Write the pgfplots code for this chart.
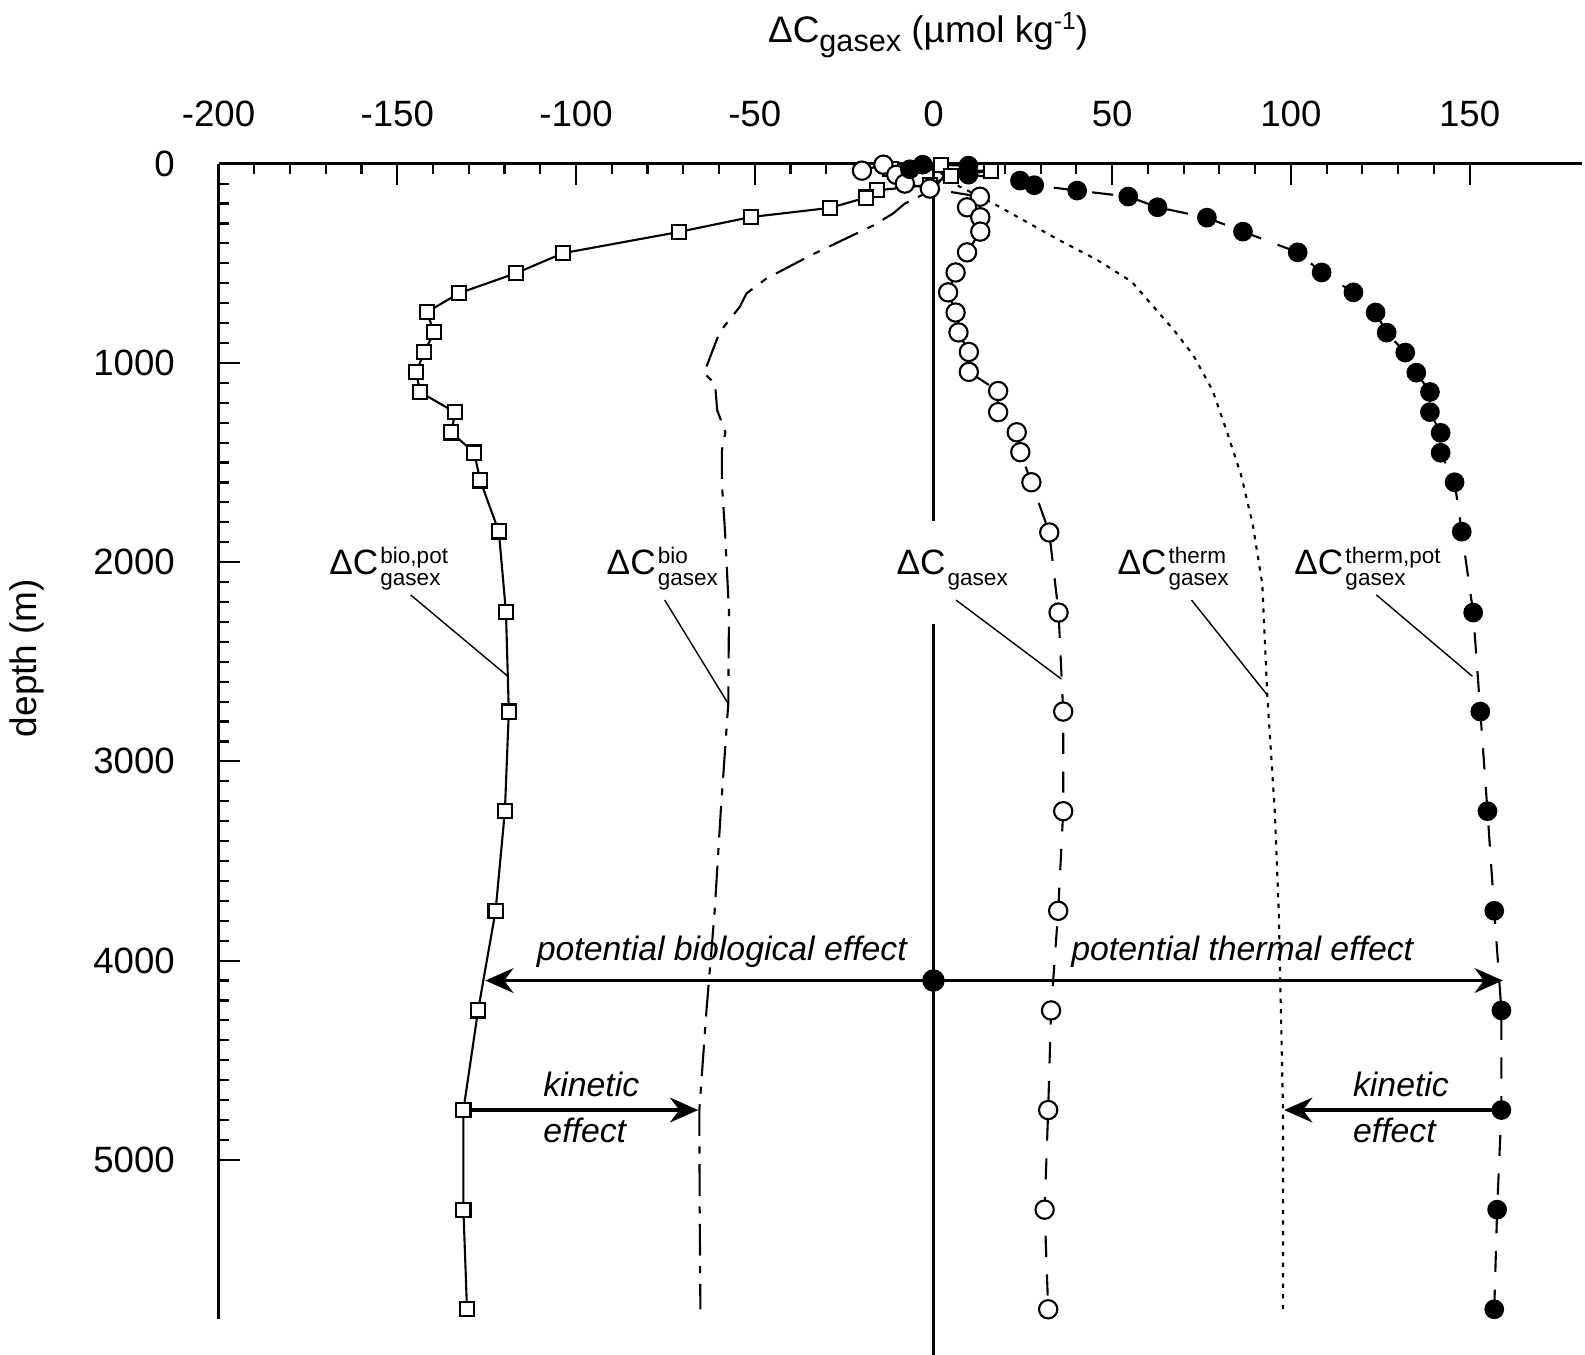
\documentclass[border=0pt]{standalone}
\usepackage{pgfplots}
\pgfplotsset{compat=1.18}
\usepackage{fontspec}
\setmainfont{Liberation Sans}
\usetikzlibrary{arrows.meta}

\newcommand{\clab}[2]{ΔC\kern0.6pt\raisebox{2.9pt}{\makebox[0pt][l]{\fontsize{6.4}{7}\selectfont #1}}\raisebox{-3.2pt}{\fontsize{6.4}{7}\selectfont #2}}

\pgfplotstableread{
x d
2 8
-12 25
16.2 36
5 60
-1 106
-15.7 134
-18.8 170
-29 222
-51.1 268
-71.3 343
-103.6 449
-116.7 549
-132.7 650
-141.7 745
-139.7 846
-142.5 946
-144.7 1047
-143.6 1147
-133.8 1248
-134.9 1349
-128.5 1450
-126.8 1590
-121.6 1846
-119.6 2250
-118.8 2750
-119.9 3250
-122.5 3750
-127.4 4250
-131.5 4750
-131.5 5250
-130.5 5750
}\biopot

\pgfplotstableread{
x d
-14 5
-20 35
-10.4 56
-8 100
-1 125
13 166
9.4 219
13.1 269
13.1 341
9.4 445
6.2 546
4.1 646
6.2 747
7.0 847
9.9 945
9.9 1045
18.1 1141
18.1 1247
23.3 1348
24.3 1448
27.4 1599
32.4 1851
35.0 2253
36.3 2750
36.3 3250
34.9 3750
32.9 4250
32.1 4750
31.1 5250
32.1 5750
}\gasex

\pgfplotstableread{
x d
-6.6 28
-3 5
9.8 10
9.8 55
24.2 85
28.2 108
40.2 135
54.5 165
62.7 219
76.5 271
86.6 341
101.9 445
108.6 546
117.5 646
123.7 747
126.8 848
132.0 948
135.1 1049
138.9 1146
138.9 1247
141.9 1351
141.9 1451
145.8 1599
147.8 1847
151.0 2253
153.0 2750
155.0 3250
156.9 3750
158.9 4250
158.9 4750
157.7 5250
156.9 5750
}\thermpot

\pgfplotstableread{
x d
0 10
3 60
0 130
-8 200
-11.3 250
-16.6 308
-34.2 459
-46.7 576
-52.3 651
-54.2 719
-59.8 845
-64.2 1051
-61.1 1104
-60.5 1238
-58.2 1347
-59.2 1440
-59.2 1600
-58.3 1850
-57.2 2250
-57.4 2710
-59.5 3250
-61.2 3750
-63.5 4250
-65.5 4750
-65.4 5250
-65.2 5750
}\bio

\pgfplotstableread{
x d
0 10
4.6 90
17.5 207
35.1 383
45.9 484
55.5 593
67.3 836
72.7 962
78.1 1138
82.3 1356
86.1 1565
89.3 1808
92.0 2110
93.4 2670
95.5 3250
96.6 3750
97.2 4250
97.8 4750
97.8 5250
97.8 5750
}\therm

\begin{document}
\begin{tikzpicture}
\useasboundingbox (-62.1pt,46.5pt) rectangle (388.2pt,-338.2pt);
\begin{axis}[
  at={(0,0)}, anchor=north west, scale only axis,
  width=387.4pt, height=328.3pt,
  xmin=-200, xmax=181.5, ymin=0, ymax=5800, y dir=reverse,
  axis x line=top, axis y line=left,
  axis line style={-, line width=1pt},
  xtick={-200,-150,...,150}, minor x tick num=4,
  ytick={0,1000,...,5000}, minor y tick num=9,
  major tick length=6pt, minor tick length=3pt,
  tick style={line width=0.6pt, black},
  tick align=inside,
  tick label style={font=\fontsize{10.4}{12}\selectfont},
  xticklabel style={yshift=6.8pt},
  yticklabel style={xshift=-8.9pt},
  /pgf/number format/assume math mode=true,
  /pgf/number format/set thousands separator={},
  clip=false,
]
% zero line
\draw[line width=0.6pt] (axis cs:0,0) -- (axis cs:0,1794);
\draw[line width=0.6pt] (axis cs:0,2311) -- (axis cs:0,6010);

\addplot[line width=0.6pt, dash pattern=on 9pt off 3pt on 2pt off 3pt] table[x=x,y=d] {\bio};
\addplot[line width=0.6pt, dash pattern=on 1.2pt off 1.8pt] table[x=x,y=d] {\therm};
\addplot[line width=0.6pt, mark=square*, mark size=2pt,
  mark options={solid, fill=white, line width=0.6pt}] table[x=x,y=d] {\biopot};
\addplot[line width=0.6pt, dash pattern=on 6pt off 5pt, mark=*, mark size=2.6pt,
  mark options={solid, fill=white, line width=0.6pt}] table[x=x,y=d] {\gasex};
\addplot[line width=0.6pt, dash pattern=on 6pt off 5pt, mark=*, mark size=2.5pt,
  mark options={solid, fill=black, line width=0.6pt}] table[x=x,y=d] {\thermpot};

% leader lines
\draw[line width=0.4pt] (axis cs:-146.3,2164) -- (axis cs:-118.8,2577);
\draw[line width=0.4pt] (axis cs:-75.2,2190) -- (axis cs:-57.4,2711);
\draw[line width=0.4pt] (axis cs:6.3,2190) -- (axis cs:35.8,2587);
\draw[line width=0.4pt] (axis cs:72.2,2190) -- (axis cs:93.4,2667);
\draw[line width=0.4pt] (axis cs:123.9,2164) -- (axis cs:150.8,2573);

% curve labels
\begin{scope}[every node/.style={anchor=base west, inner sep=0pt, font=\fontsize{10}{12}\selectfont}]
\node at (axis cs:-169.2,2060) {\clab{bio,pot}{gasex}};
\node at (axis cs:-91.6,2060) {\clab{bio}{gasex}};
\node at (axis cs:-10.5,2060) {ΔC\kern0.6pt\raisebox{-3.2pt}{\fontsize{6.4}{7}\selectfont gasex}};
\node at (axis cs:51.3,2060) {\clab{therm}{gasex}};
\node at (axis cs:100.8,2060) {\clab{therm,pot}{gasex}};
\end{scope}

% arrows
\draw[line width=1.1pt, -{Stealth[length=8pt,width=7pt]}] (axis cs:0,4100) -- (axis cs:-125.4,4100);
\draw[line width=1.1pt, -{Stealth[length=8pt,width=7pt]}] (axis cs:0,4100) -- (axis cs:159.3,4100);
\fill (axis cs:0,4100) circle (3.2pt);
\draw[line width=1.1pt, -{Stealth[length=8pt,width=7pt]}] (axis cs:-131.5,4750) -- (axis cs:-65.8,4750);
\draw[line width=1.1pt, -{Stealth[length=8pt,width=7pt]}] (axis cs:158.9,4750) -- (axis cs:98.1,4750);

\begin{scope}[every node/.style={inner sep=0pt, font=\fontsize{9.6}{11}\selectfont\itshape}]
\node[anchor=base] at (axis cs:-59.2,4000) {potential biological effect};
\node[anchor=base] at (axis cs:86.4,4000) {potential thermal effect};
\node[anchor=base west] at (axis cs:-109.3,4684) {kinetic};
\node[anchor=base west] at (axis cs:-109.3,4914) {effect};
\node[anchor=base west] at (axis cs:117.2,4684) {kinetic};
\node[anchor=base west] at (axis cs:117.2,4914) {effect};
\end{scope}

% axis titles
\node[anchor=base, inner sep=0pt, font=\fontsize{10.5}{12}\selectfont] at (axis cs:-1.5,-609)
  {ΔC\raisebox{-2.6pt}{\fontsize{8.7}{10}\selectfont gasex} (µmol kg\raisebox{3.6pt}{\fontsize{7}{8}\selectfont -1})};
\node[rotate=90, inner sep=0pt, font=\fontsize{10.5}{12}\selectfont] at (axis cs:-253.6,2481) {depth (m)};
\end{axis}
\end{tikzpicture}
\end{document}
